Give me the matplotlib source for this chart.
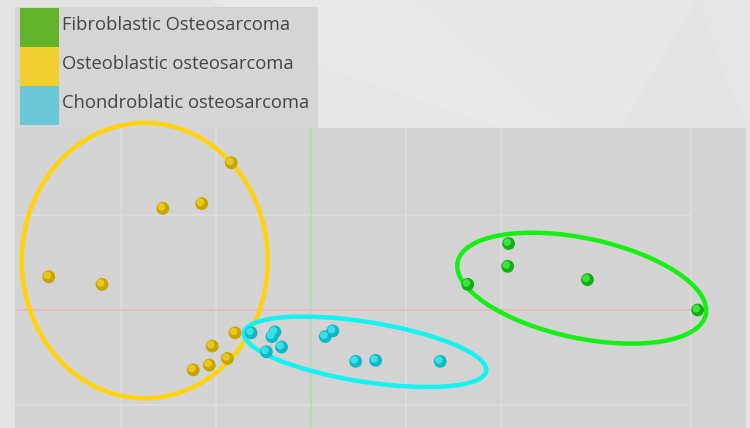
import matplotlib
matplotlib.use("Agg")
import matplotlib.pyplot as plt
from matplotlib.patches import Ellipse, Rectangle, Polygon
from matplotlib.transforms import ScaledTranslation

plt.rcParams['font.family'] = ['Open Sans', 'DejaVu Sans']

groups = ["Fibroblastic Osteosarcoma", "Osteoblastic osteosarcoma", "Chondroblatic osteosarcoma"]
swatch_colors = ["#62b22c", "#efcf2e", "#6ac8d6"]

fib_x = [2.08, 2.07, 1.65, 2.91, 4.07]
fib_y = [0.70, 0.46, 0.27, 0.32, 0.00]

ost_x = [-0.84, -1.56, -1.15, -2.76, -2.20, -0.80, -1.04, -0.88, -1.07, -1.24]
ost_y = [1.55, 1.07, 1.12, 0.35, 0.27, -0.24, -0.38, -0.51, -0.58, -0.63]

cho_x = [-0.63, -0.38, -0.41, -0.31, -0.47, 0.23, 0.15, 0.47, 0.68, 1.36]
cho_y = [-0.24, -0.23, -0.28, -0.39, -0.44, -0.22, -0.28, -0.54, -0.53, -0.54]

# confidence ellipses: centre x, centre y, width, height, angle
fib_ell = (2.85, 0.23, 2.67, 1.05, -12)
ost_ell = (-1.75, 0.52, 2.59, 2.90, 0)
cho_ell = (0.57, -0.44, 2.58, 0.63, -9)

fig = plt.figure(figsize=(7.5, 4.28), dpi=100)
fig.patch.set_facecolor("#e3e3e3")

# faint low-poly backdrop above the plot area
bg_polys = [
    ([(0.28, 1.0), (0.55, 1.0), (0.80, 0.62), (0.42, 0.85)], "#e8e8e8"),
    ([(0.42, 0.85), (0.80, 0.62), (0.30, 0.70)], "#e6e6e6"),
    ([(0.55, 1.0), (0.80, 0.62), (0.93, 1.0)], "#e7e7e7"),
    ([(0.93, 1.0), (1.0, 1.0), (1.0, 0.70), (0.97, 0.80)], "#e5e5e5"),
]
for pts, c in bg_polys:
    fig.patches.append(Polygon(pts, closed=True, transform=fig.transFigure,
                               facecolor=c, edgecolor="none", zorder=-2))

ax = fig.add_axes([15 / 750, 0, 731 / 750, 300 / 428])
ax.set_zorder(3)
ax.patch.set_visible(False)
ax.set_xlim(-3.116, 4.579)
ax.set_ylim(-1.242, 1.916)
for s in ax.spines.values():
    s.set_visible(False)
ax.set_xticks([])
ax.set_yticks([])

# plot area background drawn on the figure so the axes stay transparent
fig.patches.append(Rectangle((15 / 750, 0), 731 / 750, 300 / 428, transform=fig.transFigure,
                             facecolor="#d3d3d3", edgecolor="none", zorder=1))

grid_c = "#dddddd"
for gx in [-2, -1, 1, 2, 4]:
    ax.axvline(gx, color=grid_c, lw=1.2, zorder=1)
for gy in [-1, 1]:
    ax.plot([-3.2, 4.0], [gy, gy], color=grid_c, lw=1.2, zorder=1)
ax.plot([-3.2, 4.0], [0, 0], color="#f0b4b4", lw=1.2, zorder=1)
ax.axvline(0, color="#b4d8b4", lw=1.2, zorder=1)

ell_style = [(fib_ell, "#14f014"), (ost_ell, "#ffd20a"), (cho_ell, "#14f2f2")]
for (cx, cy, w, h, a), c in ell_style:
    ax.add_patch(Ellipse((cx, cy), w, h, angle=a, fill=False, edgecolor=c, lw=3.2,
                         zorder=3, clip_on=False))

hl = ax.transData + ScaledTranslation(-1.4 / 100, 1.4 / 100, fig.dpi_scale_trans)
series = [
    (fib_x, fib_y, "#10b010", "#40e040"),
    (ost_x, ost_y, "#c8a400", "#e8c818"),
    (cho_x, cho_y, "#10b8c4", "#38e0ea"),
]
for xs, ys, base, light in series:
    ax.scatter(xs, ys, s=85, color=base, edgecolors="none", zorder=4)
    ax.scatter(xs, ys, s=30, color=light, edgecolors="none", zorder=5, transform=hl)

# legend panel
fig.patches.append(Rectangle((15 / 750, 300 / 428), 303 / 750, 121 / 428, transform=fig.transFigure,
                             facecolor="#d5d5d5", edgecolor="none", zorder=1))
for i, (name, c) in enumerate(zip(groups, swatch_colors)):
    top = 8 + 39 * i
    fig.patches.append(Rectangle((20 / 750, (428 - top - 39) / 428), 39 / 750, 39 / 428,
                                 transform=fig.transFigure, facecolor=c, edgecolor="none", zorder=2))
    fig.text(62 / 750, (428 - top - 17) / 428, name, fontsize=13.2, color="#444444",
             va="center", ha="left", zorder=3)

fig.savefig("out.png", dpi=100, facecolor=fig.get_facecolor())
